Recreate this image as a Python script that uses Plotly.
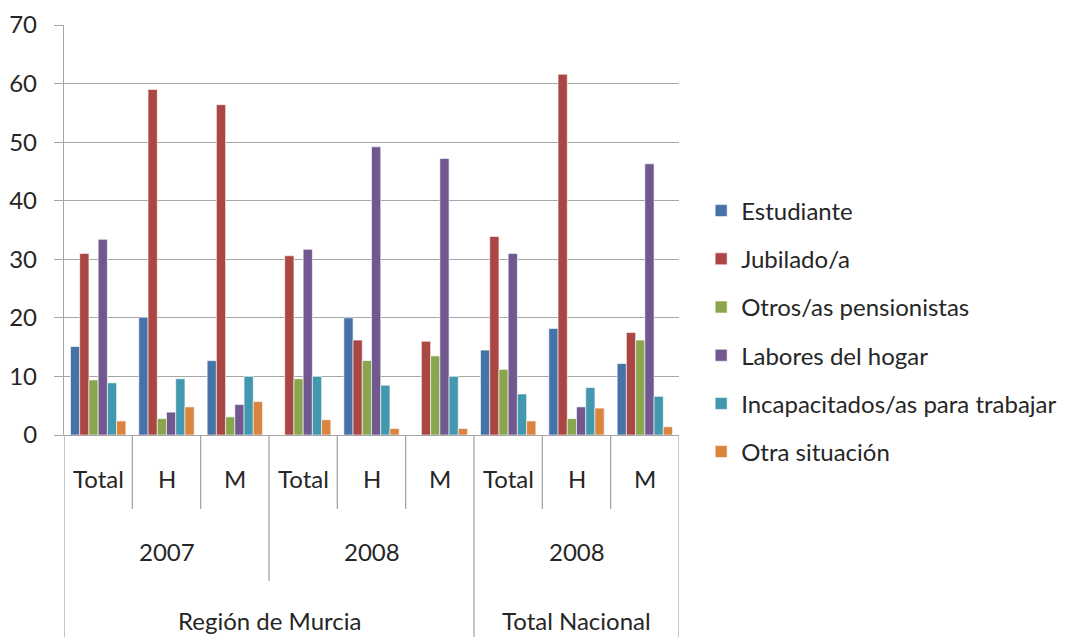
import plotly.graph_objects as go

categories = ["Total", "H", "M", "Total", "H", "M", "Total", "H", "M"]
years = ["2007", "2008", "2008"]
regions = ["Región de Murcia", "Total Nacional"]

series_names = ["Estudiante", "Jubilado/a", "Otros/as pensionistas",
                "Labores del hogar", "Incapacitados/as para trabajar", "Otra situación"]

estudiante = [15.1, 20.1, 12.7, None, 20.0, None, 14.5, 18.2, 12.2]
jubilado = [31.0, 59.0, 56.4, 30.6, 16.2, 16.0, 33.9, 61.6, 17.5]
otros_pens = [9.4, 2.8, 3.1, 9.6, 12.7, 13.5, 11.2, 2.8, 16.2]
labores = [33.4, 3.9, 5.2, 31.7, 49.2, 47.2, 31.0, 4.8, 46.3]
incapacitados = [8.9, 9.6, 10.0, 10.0, 8.5, 10.0, 7.0, 8.1, 6.6]
otra = [2.4, 4.8, 5.7, 2.6, 1.1, 1.1, 2.4, 4.6, 1.4]

colors = ["#4572A7", "#AA4643", "#89A54E", "#71588F", "#4198AF", "#DB843D"]

FONT = "Lato"
FS = 24
TXT = "#262626"
LINE = "#A6A6A6"

xs = list(range(len(categories)))
fig = go.Figure()
for name, vals, c in zip(series_names,
                         [estudiante, jubilado, otros_pens, labores, incapacitados, otra],
                         colors):
    fig.add_trace(go.Bar(x=xs, y=vals, name=name, marker_color=c, legendgroup=name,
                         marker_line=dict(color="white", width=0.6)))

ann = dict(showarrow=False, xanchor="center", yanchor="middle",
           font=dict(family=FONT, size=FS, color=TXT))
# Category labels (tier 1)
for i, cat in enumerate(categories):
    fig.add_annotation(x=i, y=-0.105, xref="x", yref="paper", text=cat, **ann)
# Year labels (tier 2)
for k, yr in enumerate(years):
    fig.add_annotation(x=3 * k + 1, y=-0.283, xref="x", yref="paper", text=yr, **ann)
# Region labels (tier 3)
region_centers = [2.5, 7]
for rc, rg in zip(region_centers, regions):
    fig.add_annotation(x=rc, y=-0.452, xref="x", yref="paper", text=rg, **ann)

# Separator lines
for i in range(len(categories) + 1):
    b = i - 0.5
    if b in (-0.5, 5.5, 8.5):
        y1 = -0.6
    elif b == 2.5:
        y1 = -0.356
    else:
        y1 = -0.1805
    fig.add_shape(type="line", xref="x", yref="paper", x0=b, x1=b, y0=0, y1=y1,
                  line=dict(color=LINE, width=1.3))

fig.update_layout(
    width=1066, height=629,
    margin=dict(l=56, r=395, t=17, b=202, autoexpand=False),
    plot_bgcolor="white", paper_bgcolor="white",
    barmode="group", bargap=0.19, bargroupgap=0,
    font=dict(family=FONT, size=FS, color=TXT),
    showlegend=True,
    legend=dict(x=1.036, y=0.2524, xanchor="left", yanchor="middle",
                font=dict(family=FONT, size=FS, color=TXT),
                itemwidth=30, tracegroupgap=14, traceorder="grouped",
                bgcolor="rgba(0,0,0,0)"),
    xaxis=dict(range=[-0.5, 8.5], showticklabels=False, showgrid=False,
               zeroline=False, showline=True, linecolor=LINE, linewidth=1.3,
               ticks="", automargin=False),
    yaxis=dict(range=[0, 70], dtick=10, showgrid=True, gridcolor=LINE,
               gridwidth=1.3, zeroline=False, showline=True, linecolor=LINE,
               linewidth=1.3, ticks="outside", ticklen=9, tickcolor=LINE,
               ticklabelstandoff=12, automargin=False,
               tickfont=dict(family=FONT, size=FS, color=TXT)),
)

fig.write_html("out.html")
